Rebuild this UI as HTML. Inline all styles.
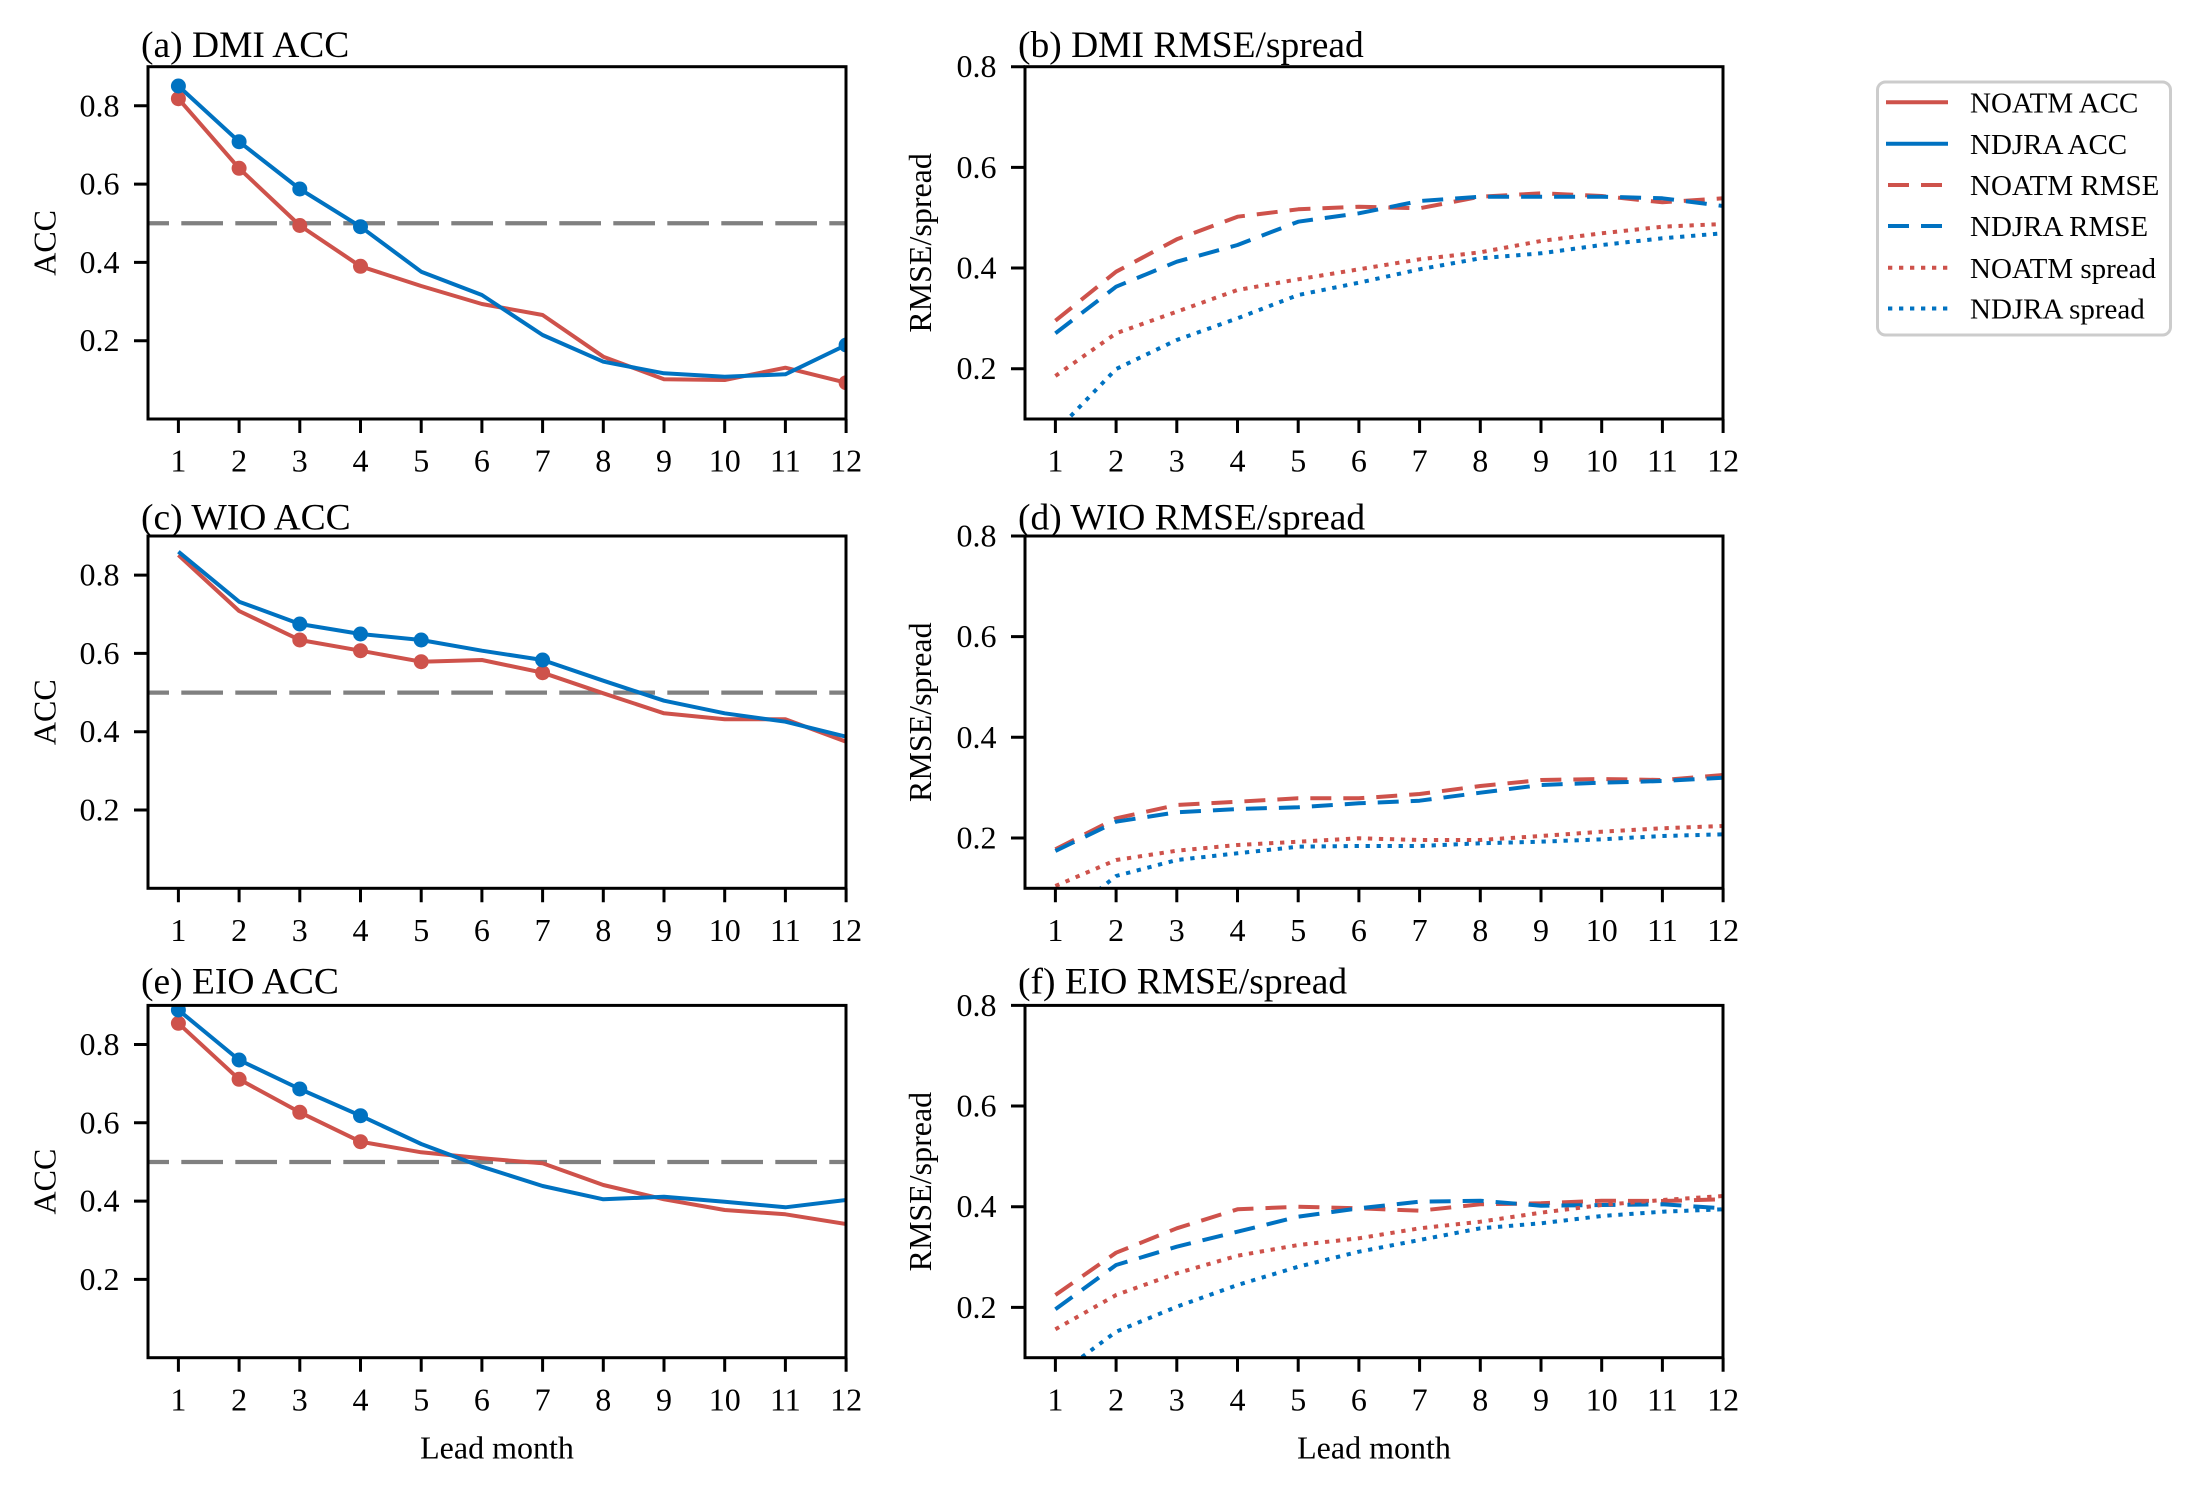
<!DOCTYPE html>
<html><head><meta charset="utf-8"><style>
html,body{margin:0;padding:0;background:#fff;}
svg{display:block;}
text{font-family:"Liberation Serif","Times New Roman",serif;fill:#000;}
</style></head><body>
<svg width="2202" height="1496" viewBox="0 0 2202 1496" xmlns="http://www.w3.org/2000/svg">
<defs>
<clipPath id="ca"><rect x="148" y="66.7" width="698" height="352.3"/></clipPath>
<clipPath id="cb"><rect x="1025" y="66.7" width="698" height="352.3"/></clipPath>
<clipPath id="cc"><rect x="148" y="536" width="698" height="352.3"/></clipPath>
<clipPath id="cd"><rect x="1025" y="536" width="698" height="352.3"/></clipPath>
<clipPath id="ce"><rect x="148" y="1005.4" width="698" height="352.3"/></clipPath>
<clipPath id="cf"><rect x="1025" y="1005.4" width="698" height="352.3"/></clipPath>
</defs>
<rect width="2202" height="1496" fill="#fff"/>

<!-- ============ Panel (a) ============ -->
<g clip-path="url(#ca)" fill="none" stroke-width="4" stroke-linejoin="round">
<line x1="148" y1="223.25" x2="846" y2="223.25" stroke="#808080" stroke-dasharray="41.7 12.3" stroke-dashoffset="20.7" stroke-width="4.3"/>
<polyline stroke="#ce524b" points="178.4,98.7 239.1,168.3 299.8,225.5 360.5,266.3 421.2,286 481.9,304 542.6,315 603.3,356.7 664,379.3 724.7,380 785.4,367.7 846.1,382.7"/>
<polyline stroke="#0072c1" points="178.4,86 239.1,141.7 299.8,189 360.5,226.7 421.2,271.7 481.9,295 542.6,335 603.3,361.7 664,373.3 724.7,376.7 785.4,374.3 846.1,345"/>
<g fill="#ce524b" stroke="none">
<circle cx="178.4" cy="98.7" r="7.5"/><circle cx="239.1" cy="168.3" r="7.5"/><circle cx="299.8" cy="225.5" r="7.5"/><circle cx="360.5" cy="266.3" r="7.5"/><circle cx="846.1" cy="382.7" r="7.5"/>
</g>
<g fill="#0072c1" stroke="none">
<circle cx="178.4" cy="86" r="7.5"/><circle cx="239.1" cy="141.7" r="7.5"/><circle cx="299.8" cy="189" r="7.5"/><circle cx="360.5" cy="226.7" r="7.5"/><circle cx="846.1" cy="345" r="7.5"/>
</g>
</g>

<!-- ============ Panel (b) ============ -->
<g clip-path="url(#cb)" fill="none" stroke-width="4" stroke-linejoin="round">
<polyline stroke="#ce524b" stroke-dasharray="21 12" points="1055.4,320.7 1116.1,271.7 1176.8,239.3 1237.5,216.7 1298.2,209.3 1358.9,206.7 1419.6,208.3 1480.3,196.7 1541,193.3 1601.7,196 1662.4,202.3 1723.1,198.3"/>
<polyline stroke="#0072c1" stroke-dasharray="21 12" points="1055.4,333.3 1116.1,286.7 1176.8,261.7 1237.5,245 1298.2,221.7 1358.9,213.3 1419.6,201 1480.3,196.7 1541,196.7 1601.7,196.7 1662.4,198.3 1723.1,206"/>
<polyline stroke="#ce524b" stroke-dasharray="4.3 6.7" points="1055.4,376 1116.1,333.3 1176.8,311.7 1237.5,290 1298.2,279.3 1358.9,269.3 1419.6,259.3 1480.3,252.3 1541,241 1601.7,233.3 1662.4,226.7 1723.1,224"/>
<polyline stroke="#0072c1" stroke-dasharray="4.3 6.7" points="1055.4,432 1116.1,369 1176.8,340 1237.5,318.3 1298.2,295 1358.9,282.7 1419.6,269.3 1480.3,258.3 1541,253.3 1601.7,245 1662.4,238.3 1723.1,233.3"/>
</g>

<!-- ============ Panel (c) ============ -->
<g clip-path="url(#cc)" fill="none" stroke-width="4" stroke-linejoin="round">
<line x1="148" y1="692.6" x2="846" y2="692.6" stroke="#808080" stroke-dasharray="41.7 12.3" stroke-dashoffset="20.7" stroke-width="4.3"/>
<polyline stroke="#ce524b" points="178.4,555 239.1,611 299.8,640 360.5,650.7 421.2,661.7 481.9,660 542.6,672.7 603.3,693.3 664,713.3 724.7,719.3 785.4,719.3 846.1,741.7"/>
<polyline stroke="#0072c1" points="178.4,551.7 239.1,601.7 299.8,624 360.5,634 421.2,640 481.9,650.7 542.6,660 603.3,680.7 664,700.7 724.7,713.3 785.4,721.7 846.1,736.7"/>
<g fill="#ce524b" stroke="none">
<circle cx="299.8" cy="640" r="7.5"/><circle cx="360.5" cy="650.7" r="7.5"/><circle cx="421.2" cy="661.7" r="7.5"/><circle cx="542.6" cy="672.7" r="7.5"/>
</g>
<g fill="#0072c1" stroke="none">
<circle cx="299.8" cy="624" r="7.5"/><circle cx="360.5" cy="634" r="7.5"/><circle cx="421.2" cy="640" r="7.5"/><circle cx="542.6" cy="660" r="7.5"/>
</g>
</g>

<!-- ============ Panel (d) ============ -->
<g clip-path="url(#cd)" fill="none" stroke-width="4" stroke-linejoin="round">
<polyline stroke="#ce524b" stroke-dasharray="21 12" points="1055.4,849.3 1116.1,818.3 1176.8,805 1237.5,801.7 1298.2,798.3 1358.9,798.3 1419.6,794 1480.3,786 1541,780 1601.7,779 1662.4,780 1723.1,775"/>
<polyline stroke="#0072c1" stroke-dasharray="21 12" points="1055.4,851 1116.1,821.7 1176.8,812.3 1237.5,809 1298.2,807.3 1358.9,803.3 1419.6,800.7 1480.3,792.7 1541,785 1601.7,782.7 1662.4,781 1723.1,777.7"/>
<polyline stroke="#ce524b" stroke-dasharray="4.3 6.7" points="1055.4,886 1116.1,860 1176.8,850.7 1237.5,845 1298.2,841.7 1358.9,838.3 1419.6,840 1480.3,840 1541,836 1601.7,831.7 1662.4,828.3 1723.1,826"/>
<polyline stroke="#0072c1" stroke-dasharray="4.3 6.7" points="1055.4,924.5 1116.1,876 1176.8,860 1237.5,853.3 1298.2,846.7 1358.9,846 1419.6,846 1480.3,843.3 1541,841.7 1601.7,839.3 1662.4,836 1723.1,834.3"/>
</g>

<!-- ============ Panel (e) ============ -->
<g clip-path="url(#ce)" fill="none" stroke-width="4" stroke-linejoin="round">
<line x1="148" y1="1162" x2="846" y2="1162" stroke="#808080" stroke-dasharray="41.7 12.3" stroke-dashoffset="20.7" stroke-width="4.3"/>
<polyline stroke="#ce524b" points="178.4,1023.3 239.1,1079.3 299.8,1112.3 360.5,1141.7 421.2,1152.3 481.9,1158.3 542.6,1163.3 603.3,1185 664,1199.3 724.7,1210 785.4,1214.3 846.1,1224"/>
<polyline stroke="#0072c1" points="178.4,1010 239.1,1060 299.8,1089 360.5,1115.7 421.2,1144 481.9,1166.7 542.6,1186 603.3,1199.3 664,1196.7 724.7,1201.7 785.4,1207.3 846.1,1200"/>
<g fill="#ce524b" stroke="none">
<circle cx="178.4" cy="1023.3" r="7.5"/><circle cx="239.1" cy="1079.3" r="7.5"/><circle cx="299.8" cy="1112.3" r="7.5"/><circle cx="360.5" cy="1141.7" r="7.5"/>
</g>
<g fill="#0072c1" stroke="none">
<circle cx="178.4" cy="1010" r="7.5"/><circle cx="239.1" cy="1060" r="7.5"/><circle cx="299.8" cy="1089" r="7.5"/><circle cx="360.5" cy="1115.7" r="7.5"/>
</g>
</g>

<!-- ============ Panel (f) ============ -->
<g clip-path="url(#cf)" fill="none" stroke-width="4" stroke-linejoin="round">
<polyline stroke="#ce524b" stroke-dasharray="21 12" points="1055.4,1295 1116.1,1252.7 1176.8,1228.3 1237.5,1209.3 1298.2,1206.7 1358.9,1208.3 1419.6,1210.7 1480.3,1204.3 1541,1203.3 1601.7,1200.7 1662.4,1201 1723.1,1199.3"/>
<polyline stroke="#0072c1" stroke-dasharray="21 12" points="1055.4,1309.3 1116.1,1265 1176.8,1246.7 1237.5,1231.7 1298.2,1216.7 1358.9,1208.3 1419.6,1201.7 1480.3,1200.7 1541,1205.7 1601.7,1205 1662.4,1204.3 1723.1,1208.3"/>
<polyline stroke="#ce524b" stroke-dasharray="4.3 6.7" points="1055.4,1329.3 1116.1,1295 1176.8,1273.3 1237.5,1255.7 1298.2,1245 1358.9,1238.3 1419.6,1228.3 1480.3,1221.7 1541,1212.7 1601.7,1205 1662.4,1200 1723.1,1196"/>
<polyline stroke="#0072c1" stroke-dasharray="4.3 6.7" points="1055.4,1376.8 1116.1,1331.7 1176.8,1306.7 1237.5,1285 1298.2,1266.7 1358.9,1251.7 1419.6,1240 1480.3,1228.3 1541,1223.3 1601.7,1216 1662.4,1211.7 1723.1,1209.3"/>
</g>

<!-- ============ Spines ============ -->
<g fill="none" stroke="#000" stroke-width="3">
<rect x="148" y="66.7" width="698" height="352.3"/>
<rect x="1025" y="66.7" width="698" height="352.3"/>
<rect x="148" y="536" width="698" height="352.3"/>
<rect x="1025" y="536" width="698" height="352.3"/>
<rect x="148" y="1005.4" width="698" height="352.3"/>
<rect x="1025" y="1005.4" width="698" height="352.3"/>
</g>

<!-- ============ Ticks ============ -->
<g stroke="#000" stroke-width="3">
<path d="M178.4 419v14M239.1 419v14M299.8 419v14M360.5 419v14M421.2 419v14M481.9 419v14M542.6 419v14M603.3 419v14M664 419v14M724.7 419v14M785.4 419v14M846.1 419v14"/>
<path d="M178.4 888.3v14M239.1 888.3v14M299.8 888.3v14M360.5 888.3v14M421.2 888.3v14M481.9 888.3v14M542.6 888.3v14M603.3 888.3v14M664 888.3v14M724.7 888.3v14M785.4 888.3v14M846.1 888.3v14"/>
<path d="M178.4 1357.7v14M239.1 1357.7v14M299.8 1357.7v14M360.5 1357.7v14M421.2 1357.7v14M481.9 1357.7v14M542.6 1357.7v14M603.3 1357.7v14M664 1357.7v14M724.7 1357.7v14M785.4 1357.7v14M846.1 1357.7v14"/>
<path d="M1055.4 419v14M1116.1 419v14M1176.8 419v14M1237.5 419v14M1298.2 419v14M1358.9 419v14M1419.6 419v14M1480.3 419v14M1541 419v14M1601.7 419v14M1662.4 419v14M1723.1 419v14"/>
<path d="M1055.4 888.3v14M1116.1 888.3v14M1176.8 888.3v14M1237.5 888.3v14M1298.2 888.3v14M1358.9 888.3v14M1419.6 888.3v14M1480.3 888.3v14M1541 888.3v14M1601.7 888.3v14M1662.4 888.3v14M1723.1 888.3v14"/>
<path d="M1055.4 1357.7v14M1116.1 1357.7v14M1176.8 1357.7v14M1237.5 1357.7v14M1298.2 1357.7v14M1358.9 1357.7v14M1419.6 1357.7v14M1480.3 1357.7v14M1541 1357.7v14M1601.7 1357.7v14M1662.4 1357.7v14M1723.1 1357.7v14"/>
<path d="M134 340.7h14M134 262.4h14M134 184.1h14M134 105.8h14"/>
<path d="M134 810h14M134 731.7h14M134 653.4h14M134 575.1h14"/>
<path d="M134 1279.4h14M134 1201.1h14M134 1122.8h14M134 1044.5h14"/>
<path d="M1011 368.7h14M1011 268h14M1011 167.35h14M1011 66.7h14"/>
<path d="M1011 838h14M1011 737.3h14M1011 636.65h14M1011 536h14"/>
<path d="M1011 1307.4h14M1011 1206.7h14M1011 1106.05h14M1011 1005.4h14"/>
</g>

<!-- ============ Tick labels ============ -->
<g font-size="32" text-anchor="middle">
<g transform="translate(0,471.7)">
<text x="178.4">1</text><text x="239.1">2</text><text x="299.8">3</text><text x="360.5">4</text><text x="421.2">5</text><text x="481.9">6</text><text x="542.6">7</text><text x="603.3">8</text><text x="664">9</text><text x="724.7">10</text><text x="785.4">11</text><text x="846.1">12</text>
<text x="1055.4">1</text><text x="1116.1">2</text><text x="1176.8">3</text><text x="1237.5">4</text><text x="1298.2">5</text><text x="1358.9">6</text><text x="1419.6">7</text><text x="1480.3">8</text><text x="1541">9</text><text x="1601.7">10</text><text x="1662.4">11</text><text x="1723.1">12</text>
</g>
<g transform="translate(0,941)">
<text x="178.4">1</text><text x="239.1">2</text><text x="299.8">3</text><text x="360.5">4</text><text x="421.2">5</text><text x="481.9">6</text><text x="542.6">7</text><text x="603.3">8</text><text x="664">9</text><text x="724.7">10</text><text x="785.4">11</text><text x="846.1">12</text>
<text x="1055.4">1</text><text x="1116.1">2</text><text x="1176.8">3</text><text x="1237.5">4</text><text x="1298.2">5</text><text x="1358.9">6</text><text x="1419.6">7</text><text x="1480.3">8</text><text x="1541">9</text><text x="1601.7">10</text><text x="1662.4">11</text><text x="1723.1">12</text>
</g>
<g transform="translate(0,1410.4)">
<text x="178.4">1</text><text x="239.1">2</text><text x="299.8">3</text><text x="360.5">4</text><text x="421.2">5</text><text x="481.9">6</text><text x="542.6">7</text><text x="603.3">8</text><text x="664">9</text><text x="724.7">10</text><text x="785.4">11</text><text x="846.1">12</text>
<text x="1055.4">1</text><text x="1116.1">2</text><text x="1176.8">3</text><text x="1237.5">4</text><text x="1298.2">5</text><text x="1358.9">6</text><text x="1419.6">7</text><text x="1480.3">8</text><text x="1541">9</text><text x="1601.7">10</text><text x="1662.4">11</text><text x="1723.1">12</text>
</g>
</g>
<g font-size="32" text-anchor="end">
<text x="119.5" y="351.2">0.2</text><text x="119.5" y="272.9">0.4</text><text x="119.5" y="194.6">0.6</text><text x="119.5" y="116.3">0.8</text>
<text x="119.5" y="820.5">0.2</text><text x="119.5" y="742.2">0.4</text><text x="119.5" y="663.9">0.6</text><text x="119.5" y="585.6">0.8</text>
<text x="119.5" y="1289.9">0.2</text><text x="119.5" y="1211.6">0.4</text><text x="119.5" y="1133.3">0.6</text><text x="119.5" y="1055">0.8</text>
<text x="996.5" y="379.2">0.2</text><text x="996.5" y="278.5">0.4</text><text x="996.5" y="177.85">0.6</text><text x="996.5" y="77.2">0.8</text>
<text x="996.5" y="848.5">0.2</text><text x="996.5" y="747.8">0.4</text><text x="996.5" y="647.15">0.6</text><text x="996.5" y="546.5">0.8</text>
<text x="996.5" y="1317.9">0.2</text><text x="996.5" y="1217.2">0.4</text><text x="996.5" y="1116.55">0.6</text><text x="996.5" y="1015.9">0.8</text>
</g>

<!-- ============ Axis labels ============ -->
<g font-size="32" text-anchor="middle">
<text transform="translate(55.5,242.9) rotate(-90)">ACC</text>
<text transform="translate(55.5,712.2) rotate(-90)">ACC</text>
<text transform="translate(55.5,1181.6) rotate(-90)">ACC</text>
<text transform="translate(931,242.9) rotate(-90)">RMSE/spread</text>
<text transform="translate(931,712.2) rotate(-90)">RMSE/spread</text>
<text transform="translate(931,1181.6) rotate(-90)">RMSE/spread</text>
<text x="497" y="1458.3">Lead month</text>
<text x="1374" y="1458.3">Lead month</text>
</g>

<!-- ============ Titles ============ -->
<g font-size="37.5">
<text x="141" y="57">(a) DMI ACC</text>
<text x="1018" y="57">(b) DMI RMSE/spread</text>
<text x="141" y="529.3">(c) WIO ACC</text>
<text x="1018" y="529.3">(d) WIO RMSE/spread</text>
<text x="141" y="993.3">(e) EIO ACC</text>
<text x="1018" y="993.3">(f) EIO RMSE/spread</text>
</g>

<!-- ============ Legend ============ -->
<rect x="1877.5" y="82" width="293" height="253" rx="8" ry="8" fill="#fff" stroke="#cccccc" stroke-width="3"/>
<g fill="none" stroke-width="4">
<line x1="1886" y1="102.3" x2="1948" y2="102.3" stroke="#ce524b"/>
<line x1="1886" y1="143.8" x2="1948" y2="143.8" stroke="#0072c1"/>
<line x1="1888" y1="185" x2="1948" y2="185" stroke="#ce524b" stroke-dasharray="21 12"/>
<line x1="1888" y1="226" x2="1948" y2="226" stroke="#0072c1" stroke-dasharray="21 12"/>
<line x1="1888" y1="267.7" x2="1948" y2="267.7" stroke="#ce524b" stroke-dasharray="4.3 6.7"/>
<line x1="1888" y1="308.5" x2="1948" y2="308.5" stroke="#0072c1" stroke-dasharray="4.3 6.7"/>
</g>
<g font-size="29">
<text x="1970" y="112.5">NOATM ACC</text>
<text x="1970" y="154">NDJRA ACC</text>
<text x="1970" y="195.2">NOATM RMSE</text>
<text x="1970" y="236.2">NDJRA RMSE</text>
<text x="1970" y="277.9">NOATM spread</text>
<text x="1970" y="318.7">NDJRA spread</text>
</g>
</svg>
</body></html>
